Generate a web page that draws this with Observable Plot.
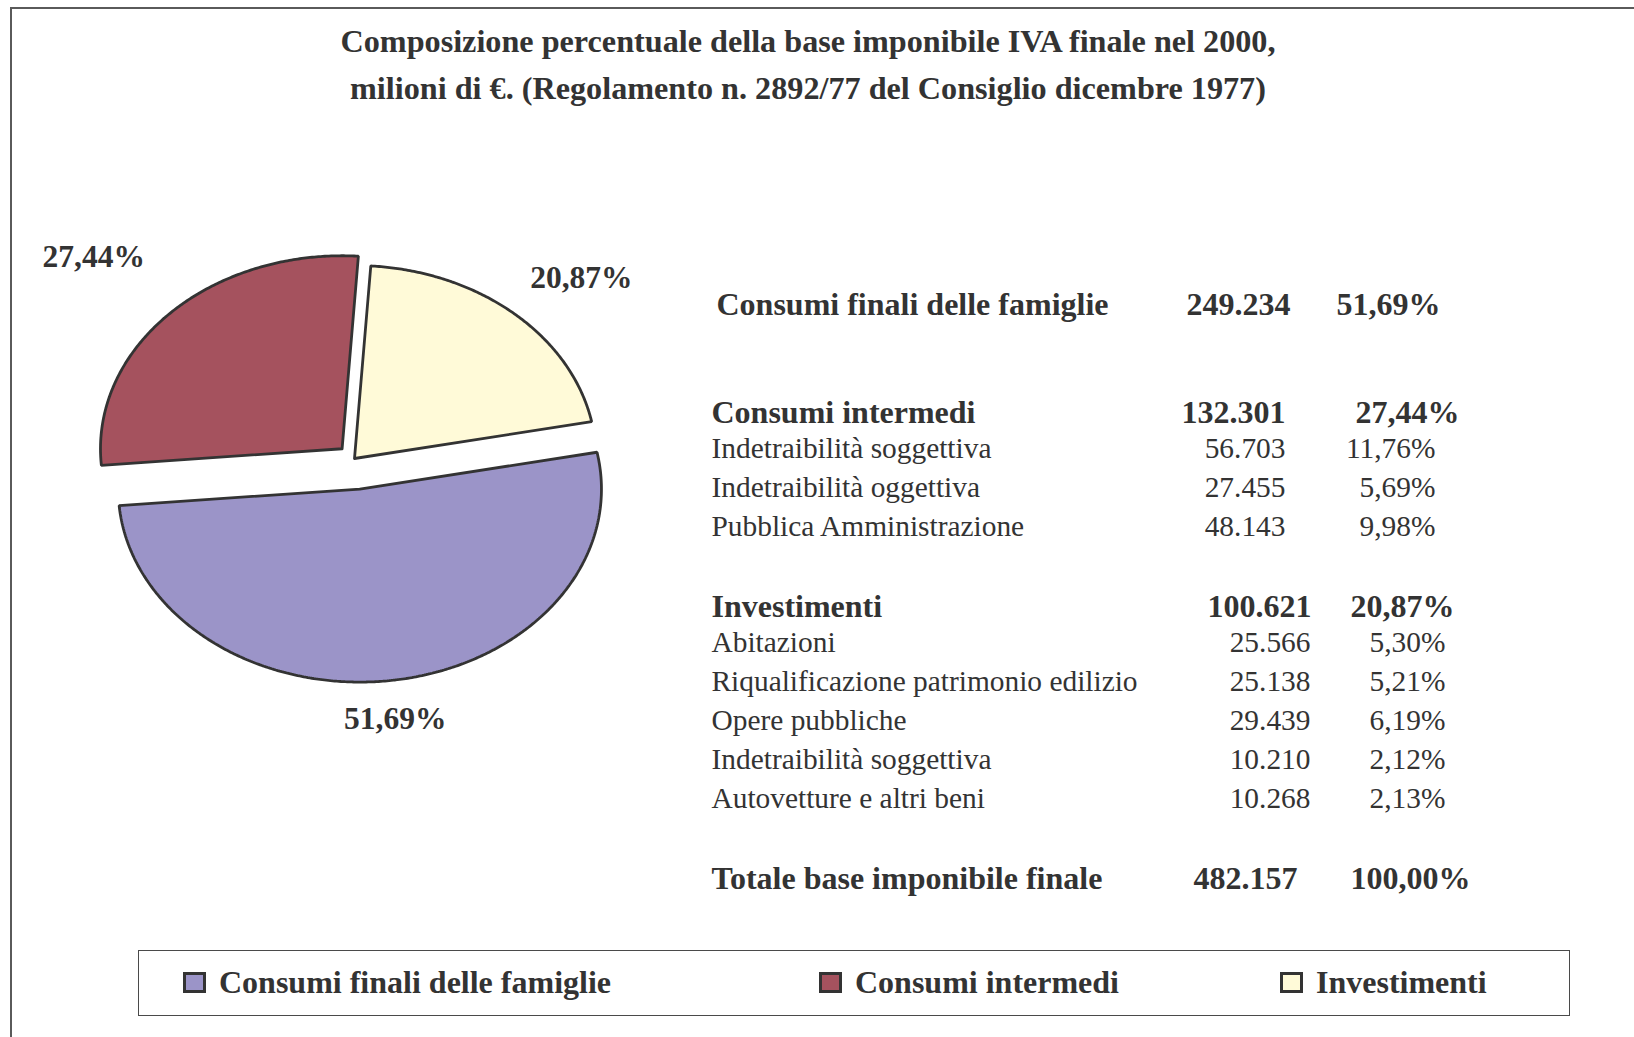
<!DOCTYPE html>
<html>
<head>
<meta charset="utf-8">
<script src="https://cdn.jsdelivr.net/npm/d3@7"></script>
<script src="https://cdn.jsdelivr.net/npm/@observablehq/plot@0.6"></script>
<style>
  body { margin: 0; background: #fff; }
  #page { position: relative; width: 1634px; height: 1037px; overflow: hidden;
          font-family: "Liberation Serif", "Times New Roman", serif; color: #333; }
  #frame { position: absolute; left: 10px; top: 7px; right: -20px; bottom: -20px;
           border-left: 2px solid #5a5a5a; border-top: 2px solid #5a5a5a; }
  #title { position: absolute; left: 0; width: 1616px; top: 18px; text-align: center;
           font-weight: bold; font-size: 32.2px; line-height: 47px; color: #333; }
  .layer { position: absolute; left: 0; top: 0; }
  #legend { position: absolute; left: 138px; top: 950px; width: 1432px; height: 66px;
            border: 1.5px solid #4a4a4a; box-sizing: border-box; }
  .item { position: absolute; top: 0; height: 63px; display: flex; align-items: center;
          font-weight: bold; font-size: 32px; color: #333; white-space: nowrap; }
  .sw { width: 17px; height: 15px; border: 3px solid #333; margin-right: 13px; }
</style>
</head>
<body>
<div id="page">
  <div id="frame"></div>
  <div id="title">Composizione percentuale della base imponibile IVA finale nel 2000,<br>milioni di €. (Regolamento n. 2892/77 del Consiglio dicembre 1977)</div>
  <div id="pie" class="layer"></div>
  <div id="table" class="layer"></div>
  <div id="legend"></div>
</div>
<script>
// ---------------- DATA ----------------
const categories = ["Consumi finali delle famiglie", "Consumi intermedi", "Investimenti"];
const shares = [51.69, 27.44, 20.87];
const amounts = [249234, 132301, 100621];

const intermediLabels = ["Indetraibilità soggettiva", "Indetraibilità oggettiva", "Pubblica Amministrazione"];
const intermediAmounts = [56703, 27455, 48143];
const intermediShares = [11.76, 5.69, 9.98];

const investLabels = ["Abitazioni", "Riqualificazione patrimonio edilizio", "Opere pubbliche", "Indetraibilità soggettiva", "Autovetture e altri beni"];
const investAmounts = [25566, 25138, 29439, 10210, 10268];
const investShares = [5.30, 5.21, 6.19, 2.12, 2.13];

const totalLabel = "Totale base imponibile finale";
const totalAmount = 482157;
const totalShare = 100.00;

// ---------------- STYLE ----------------
const colors = ["#9b94c8", "#a5525e", "#fffad8"];
const strokeColor = "#333";
const textColor = "#333";
const font = "Liberation Serif, Times New Roman, serif";
const startDeg = 79;                 // first slice angle
const explode = [0.16, 0.072, 0];    // explosion per slice (fraction of radius)
const labelNudge = [[2, 39], [-76, -57], [67, -36]]; // label offsets from arc (px)

const loc = d3.formatLocale({decimal: ",", thousands: ".", grouping: [3], currency: ["", "€"]});
const fmtAmt = loc.format(",d");
const fmtPct = v => loc.format(".2f")(v) + "%";

// ---------------- PIE ----------------
const pieData = categories.map((c, i) => ({cat: c, share: shares[i], i}));
const start = startDeg * Math.PI / 180;
const arcs = d3.pie().sort(null).value(d => d.share).startAngle(start).endAngle(start + 2 * Math.PI)(pieData);

const polys = [];
const labels = [];
arcs.forEach(a => {
  const i = a.data.i;
  const mid = (a.startAngle + a.endAngle) / 2;
  const ex = explode[i] * Math.sin(mid), ey = -explode[i] * Math.cos(mid);
  polys.push({cat: a.data.cat, x: ex, y: ey});
  const n = Math.ceil((a.endAngle - a.startAngle) * 180 / Math.PI) * 2;
  for (let k = 0; k <= n; k++) {
    const t = a.startAngle + (a.endAngle - a.startAngle) * k / n;
    polys.push({cat: a.data.cat, x: ex + Math.sin(t), y: ey - Math.cos(t)});
  }
  polys.push({cat: a.data.cat, x: ex, y: ey});
  labels.push({cat: a.data.cat, i, x: ex + Math.sin(mid), y: ey - Math.cos(mid), text: fmtPct(a.data.share)});
});

const cx = 354, cy = 458, rx = 241.6, ry = 193;
const piePlot = Plot.plot({
  width: 700, height: 780,
  margin: 0,
  style: {fontFamily: font, background: "transparent", overflow: "visible"},
  x: {domain: [-1, 1], range: [cx - rx, cx + rx], axis: null},
  y: {domain: [-1, 1], range: [cy - ry, cy + ry], axis: null},
  color: {domain: categories, range: colors},
  marks: [
    Plot.line(polys, {x: "x", y: "y", z: "cat", fill: "cat", stroke: strokeColor,
      strokeWidth: 2.8, strokeLinejoin: "miter", curve: "linear"}),
    ...labels.map(l => Plot.text([l], {x: "x", y: "y", text: "text", dx: labelNudge[l.i][0], dy: labelNudge[l.i][1],
      fontSize: 31.5, fontWeight: "bold", fill: textColor}))
  ]
});
document.getElementById("pie").appendChild(piePlot);

// ---------------- TABLE ----------------
// column positions as fractions of the table width (label, amount, share)
const colFrac = [0, 0.7997, 1];
// group layout: slot gap before header, column nudges (px)
const groups = [
  {head: [categories[0], amounts[0], shares[0]], subs: [], gap: 0, hd: [5, -8, -5], sd: [0, 0, 0]},
  {head: [categories[1], amounts[1], shares[1]], subs: intermediLabels.map((l, k) => [l, intermediAmounts[k], intermediShares[k]]), gap: 2.77, hd: [0, -13, 14], sd: [0, -13, -10]},
  {head: [categories[2], amounts[2], shares[2]], subs: investLabels.map((l, k) => [l, investAmounts[k], investShares[k]]), gap: 2.07, hd: [0, 13, 9], sd: [0, 12, 0]},
  {head: [totalLabel, totalAmount, totalShare], subs: [], gap: 2.05, hd: [0, -1, 25], sd: [0, 0, 0]}
];
const rows = [];
let slot = 0;
groups.forEach((g, gi) => {
  slot = gi === 0 ? 0 : slot + g.gap;
  rows.push({g: gi, bold: true, slot, cells: g.head});
  g.subs.forEach((s, k) => {
    slot = k === 0 ? slot + 0.92 : slot + 1;
    rows.push({g: gi, bold: false, slot, cells: s});
  });
});
const cellData = [];
rows.forEach(r => {
  cellData.push({g: r.g, bold: r.bold, slot: r.slot, col: 0, text: r.cells[0]});
  cellData.push({g: r.g, bold: r.bold, slot: r.slot, col: 1, text: fmtAmt(r.cells[1])});
  cellData.push({g: r.g, bold: r.bold, slot: r.slot, col: 2, text: fmtPct(r.cells[2])});
});

const tableMarks = [];
groups.forEach((g, gi) => {
  [true, false].forEach(b => {
    [0, 1, 2].forEach(col => {
      const d = cellData.filter(c => c.g === gi && c.bold === b && c.col === col);
      if (!d.length) return;
      tableMarks.push(Plot.text(d, {
        x: c => colFrac[c.col], y: "slot", text: "text",
        textAnchor: col === 0 ? "start" : "end",
        dx: (b ? g.hd : g.sd)[col],
        fontSize: b ? 32 : 29.4, fontWeight: b ? "bold" : "normal", fill: textColor
      }));
    });
  });
});

const tablePlot = Plot.plot({
  width: 1634, height: 1037, margin: 0,
  style: {fontFamily: font, background: "transparent"},
  x: {type: "linear", domain: [0, 1], range: [711, 1445], axis: null},
  y: {type: "linear", domain: [0, 1], range: [304, 343], axis: null},
  marks: tableMarks
});
document.getElementById("table").appendChild(tablePlot);

// ---------------- LEGEND ----------------
const legendLeft = [44, 680, 1141];
const legend = d3.select("#legend");
categories.forEach((c, i) => {
  const it = legend.append("div").attr("class", "item").style("left", legendLeft[i] + "px");
  it.append("div").attr("class", "sw").style("background", colors[i]);
  it.append("span").text(c);
});
</script>
</body>
</html>
